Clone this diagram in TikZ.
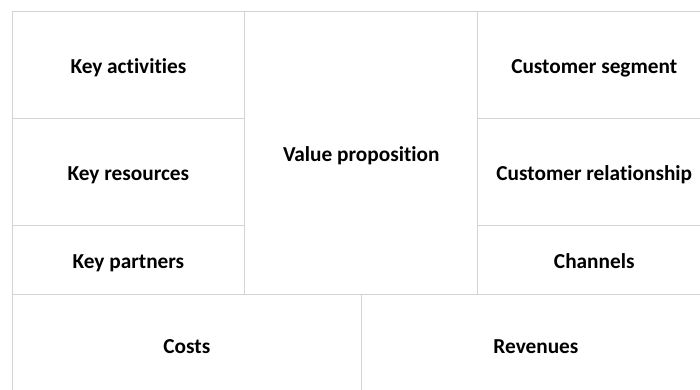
\documentclass[tikz,border=0pt]{standalone}
\usepackage{fontspec}
\setmainfont[Ligatures=NoCommon]{Carlito}
\begin{document}
\begin{tikzpicture}[x=1pt,y=-1pt,
  cell/.style={draw=gridgray, line width=0.9pt, inner sep=0pt, anchor=north west},
  lbl/.style={font=\bfseries\fontsize{21.3}{25}\selectfont, text=black, anchor=base, inner sep=0pt}]
\definecolor{gridgray}{HTML}{D3D3D3}
\useasboundingbox (0,0) rectangle (700,390);
\clip (0,0) rectangle (700,390);
% cells
\node[cell, minimum width=232.6pt, minimum height=106.7pt] (ka) at (11.7,11.3) {};
\node[cell, minimum width=232.6pt, minimum height=107pt] (kr) at (11.7,118) {};
\node[cell, minimum width=232.6pt, minimum height=69pt] (kp) at (11.7,225) {};
\node[cell, minimum width=233pt, minimum height=282.7pt] (vp) at (244.3,11.3) {};
\node[cell, minimum width=233pt, minimum height=106.7pt] (cs) at (477.3,11.3) {};
\node[cell, minimum width=233pt, minimum height=107pt] (cr) at (477.3,118) {};
\node[cell, minimum width=233pt, minimum height=69pt] (ch) at (477.3,225) {};
\node[cell, minimum width=349.3pt, minimum height=104pt] (co) at (11.7,294.3) {};
\node[cell, minimum width=349pt, minimum height=104pt] (re) at (361,294.3) {};
% labels
\node[lbl] at ([yshift=-8.3pt]ka.center) {Key activities};
\node[lbl] at ([yshift=-9pt]kr.center) {Key resources};
\node[lbl] at ([yshift=-8.5pt]kp.center) {Key partners};
\node[lbl] at ([yshift=-8.3pt]vp.center) {Value proposition};
\node[lbl] at ([yshift=-8.5pt]cs.center) {Customer segment};
\node[lbl] at ([yshift=-9pt]cr.center) {Customer relationship};
\node[lbl] at ([yshift=-9pt]ch.center) {Channels};
\node[lbl] at ([yshift=-6.5pt]co.center) {Costs};
\node[lbl] at ([yshift=-6.5pt]re.center) {Revenues};
\end{tikzpicture}
\end{document}
